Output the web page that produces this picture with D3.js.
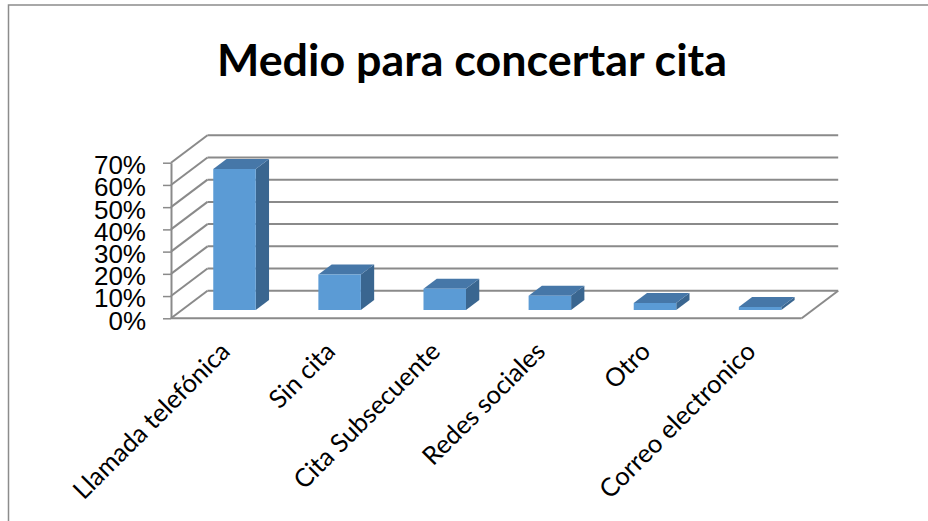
<!DOCTYPE html>
<html>
<head>
<meta charset="utf-8">
<script src="https://cdn.jsdelivr.net/npm/d3@7"></script>
<style>
  html, body { margin: 0; padding: 0; background: #fff; }
  svg { display: block; }
</style>
</head>
<body>
<svg id="chart" width="928" height="521"></svg>
<script>
// Chart data
const categories = ["Llamada telefónica", "Sin cita", "Cita Subsecuente", "Redes sociales", "Otro", "Correo electronico"];
const values = [0.634, 0.16, 0.096, 0.064, 0.032, 0.014];
const yTicks = [0, 0.1, 0.2, 0.3, 0.4, 0.5, 0.6, 0.7];
const title = "Medio para concertar cita";

const svg = d3.select("#chart");
const W = 928, H = 521;

// Front plane of the 3D box and its depth vector
const left = 171, right = 801.7, floorY = 318.3, topY = 162.7;
const DX = 36.5, DY = -27.5;
const proj = (x, y, f) => [x + f * DX, y + f * DY];

const x = d3.scaleBand().domain(categories).range([left, right]).paddingInner(0).paddingOuter(0);
const y = d3.scaleLinear().domain([0, 0.7]).range([floorY, topY]);

const gridColor = "#8a8a8a";

// Outer frame
svg.append("path")
  .attr("d", `M8.5,${H} L8.5,5 L${W},5`)
  .attr("fill", "none").attr("stroke", "#8c8c8c").attr("stroke-width", 1.5);

// Title
svg.append("text")
  .attr("x", 472).attr("y", 76)
  .attr("text-anchor", "middle")
  .attr("font-family", "Lato, 'Open Sans', sans-serif")
  .attr("font-weight", "bold")
  .attr("font-size", 44)
  .attr("textLength", 510)
  .attr("lengthAdjust", "spacingAndGlyphs")
  .attr("fill", "#000")
  .text(title);

const walls = svg.append("g").attr("fill", "none").attr("stroke", gridColor).attr("stroke-width", 2);

// Back-wall gridlines and side-wall diagonals
yTicks.forEach(t => {
  const yy = y(t);
  const a = proj(left, yy, 1), b = proj(right, yy, 1);
  walls.append("line").attr("x1", a[0]).attr("y1", a[1]).attr("x2", b[0]).attr("y2", b[1]);
  walls.append("line").attr("x1", left).attr("y1", yy).attr("x2", a[0]).attr("y2", a[1]);
});

// Floor: front edge and right edge
const fr = proj(right, floorY, 1);
walls.append("line").attr("x1", left).attr("y1", floorY).attr("x2", right).attr("y2", floorY);
walls.append("line").attr("x1", right).attr("y1", floorY).attr("x2", fr[0]).attr("y2", fr[1]);

// Value axis
const yAxis = d3.axisLeft(y)
  .tickValues(yTicks)
  .tickFormat(d3.format(".0%"))
  .tickSize(8)
  .tickSizeOuter(0)
  .tickPadding(17);
const ag = svg.append("g").attr("transform", `translate(${left},0)`).call(yAxis);
ag.select(".domain").attr("stroke", gridColor).attr("stroke-width", 2);
ag.selectAll(".tick line").attr("stroke", gridColor).attr("stroke-width", 1.5);
ag.selectAll(".tick text")
  .attr("font-family", "'Liberation Sans', Arial, sans-serif")
  .attr("font-size", 26)
  .attr("fill", "#000")
  .attr("dy", "0.42em");

// 3D bars
const f0 = 0.30, f1 = 0.664;
const barW = 42.5;
const bars = svg.append("g");
categories.forEach((c, i) => {
  const x0 = x(c) + (x.bandwidth() - barW) / 2;
  const x1 = x0 + barW;
  const y0 = y(0), y1 = y(values[i]);
  const A = proj(x0, y1, f0), B = proj(x1, y1, f0), C = proj(x1, y0, f0), D = proj(x0, y0, f0);
  const Bb = proj(x1, y1, f1), Ab = proj(x0, y1, f1), Cb = proj(x1, y0, f1);
  const poly = pts => "M" + pts.map(p => p.join(",")).join("L") + "Z";
  bars.append("path").attr("d", poly([B, Bb, Cb, C])).attr("fill", "#3a6690");
  bars.append("path").attr("d", poly([A, Ab, Bb, B])).attr("fill", "#4677a8");
  bars.append("path").attr("d", poly([A, B, C, D])).attr("fill", "#5b9bd5");
});

// Category labels
svg.append("g").selectAll("text")
  .data(categories)
  .join("text")
  .attr("transform", d => `translate(${x(d) + x.bandwidth() / 2 + 8},${353}) rotate(-45)`)
  .attr("text-anchor", "end")
  .attr("font-family", "Lato, 'Open Sans', sans-serif")
  .attr("font-size", 25.5)
  .attr("fill", "#000")
  .text(d => d);
</script>
</body>
</html>
